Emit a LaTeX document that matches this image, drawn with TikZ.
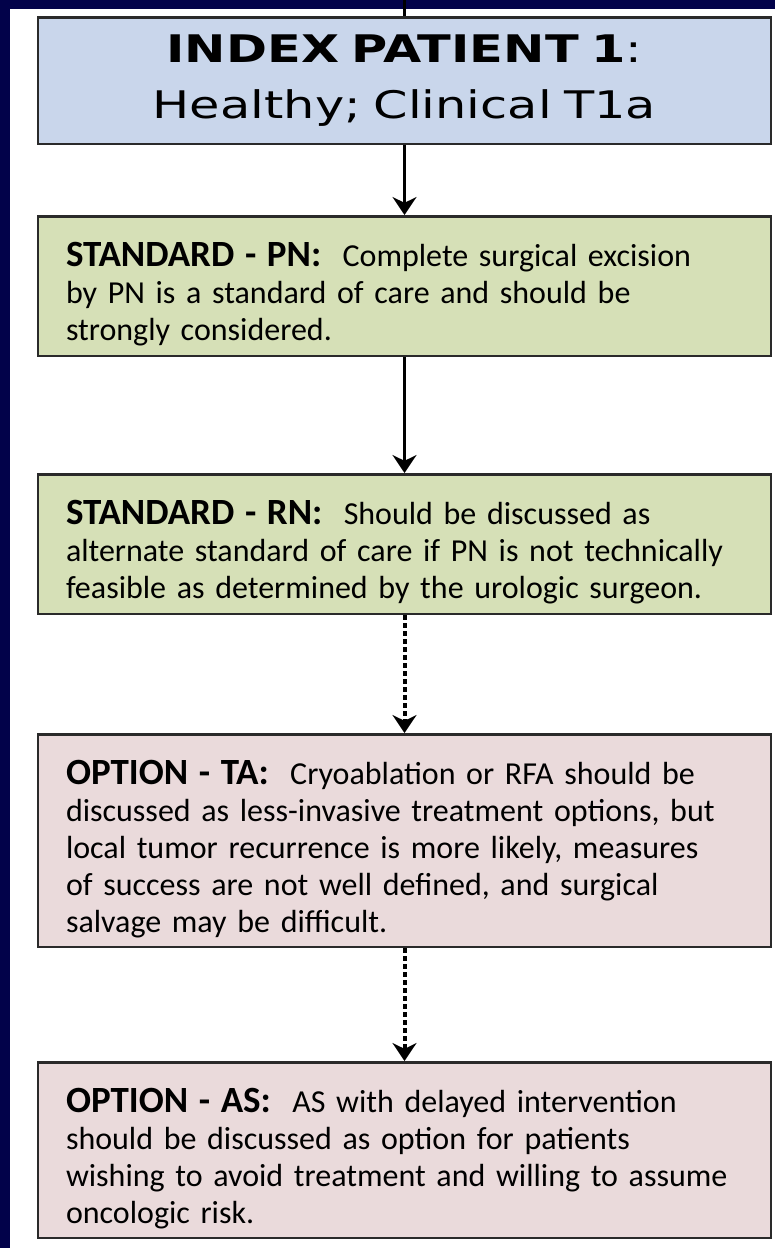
\documentclass[tikz,border=0pt]{standalone}
\usepackage{fontspec}
\setmainfont{Carlito}
\newfontfamily\titlefont{DejaVu Sans}[FakeStretch=1.3]
\usepackage{tikz}
\usetikzlibrary{positioning,arrows.meta}
\usepackage{xcolor}
\definecolor{slidenavy}{HTML}{02024A}
\definecolor{boxblue}{HTML}{C9D6EB}
\definecolor{boxgreen}{HTML}{D6E0B7}
\definecolor{boxpink}{HTML}{EADADB}
\definecolor{boxedge}{HTML}{2A2A2A}
\newcommand{\boxhead}[1]{\rule{0pt}{41pt}{\fontsize{37}{37}\selectfont\textbf{#1}}\ \ }

\begin{document}
\begin{tikzpicture}[
    x = 1pt, y = 1pt,
    > = {Stealth[length=18pt,width=24pt]},
    line width = 3pt,
    box/.style={rectangle, draw=boxedge, line width=2.5pt, minimum width=733pt,
        inner xsep=28pt, inner ysep=0pt, text width=677pt, align=left,
        font=\fontsize{32}{37}\selectfont},
    dotarrow/.style={dash pattern=on 5pt off 3pt, line width=4pt}
]
    % slide frame
    \fill[slidenavy] (0,0) rectangle (775,-1248);
    \fill[white] (10,-9) rectangle (775,-1248);
    \useasboundingbox (0,0) rectangle (775,-1248);

    \coordinate (top) at (404.5,0);
    \node[box, fill=boxblue, minimum height=126.5pt, align=center,
          font=\titlefont\fontsize{38}{46}\selectfont]
        (idx) at (404.5,-80.5)
        {\textbf{INDEX PATIENT 1}:\\[10pt] Healthy; Clinical T1a};
    \node[box, fill=boxgreen, minimum height=139.5pt, below=70pt of idx] (pn)
        {\boxhead{STANDARD - PN:}Complete surgical excision\\
         by PN is a standard of care and should be\\
         strongly considered.};
    \node[box, fill=boxgreen, minimum height=139.5pt, below=116pt of pn] (rn)
        {\boxhead{STANDARD - RN:}Should be discussed as\\
         alternate standard of care if PN is not technically\\
         feasible as determined by the urologic surgeon.};
    \node[box, fill=boxpink, minimum height=212.5pt, below=118pt of rn] (ta)
        {\boxhead{OPTION - TA:}Cryoablation or RFA should be\\
         discussed as less-invasive treatment options, but\\
         local tumor recurrence is more likely, measures\\
         of success are not well defined, and surgical\\
         salvage may be difficult.};
    \node[box, fill=boxpink, minimum height=175.5pt, below=113pt of ta] (optas)
        {\boxhead{OPTION - AS:}AS with delayed intervention\\
         should be discussed as option for patients\\
         wishing to avoid treatment and willing to assume\\
         oncologic risk.};

    \draw (top) -- (idx);
    \path[->]
        (idx) edge (pn)
        (pn) edge (rn)
        (rn) edge[dotarrow] (ta)
        (ta) edge[dotarrow] (optas);
\end{tikzpicture}
\end{document}
